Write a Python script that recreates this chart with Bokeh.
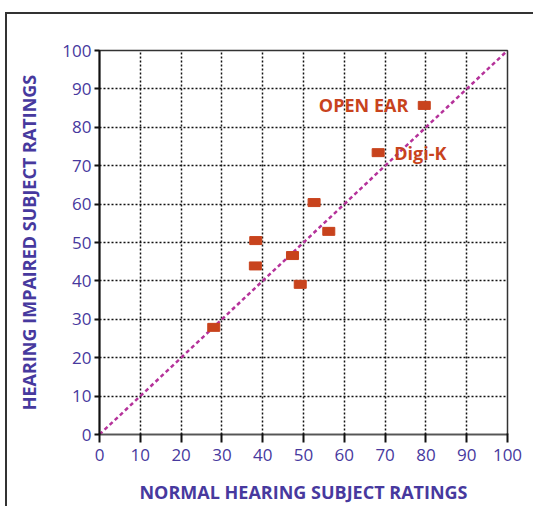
from bokeh.plotting import figure
from bokeh.models import ColumnDataSource, Range1d, FixedTicker
from bokeh.core.properties import value
from bokeh.embed import file_html
from bokeh.resources import INLINE

# data
normal_ratings = [28, 38.3, 38.2, 47.3, 49.2, 52.6, 56.2, 68.3, 79.6]
impaired_ratings = [27.9, 50.5, 43.9, 46.6, 39.1, 60.4, 52.9, 73.4, 85.7]

label_names = ["OPEN EAR", "Digi-K"]
label_x = [79.6, 68.3]
label_y = [85.7, 73.4]

diag_x = [0, 100]
diag_y = [0, 100]

ticks = [0, 10, 20, 30, 40, 50, 60, 70, 80, 90, 100]

AXIS_COLOR = "#47399e"
MARK_COLOR = "#c8431d"

p = figure(width=533, height=506, output_backend="svg", toolbar_location=None,
           x_range=Range1d(0, 100), y_range=Range1d(0, 100),
           min_border_left=99, min_border_right=26, min_border_top=50, min_border_bottom=72)
p.background_fill_color = "white"
p.border_fill_color = None
p.outline_line_color = "#333333"
p.outline_line_width = 1.5
p.styles = {
    "background-color": "white",
    "box-shadow": "inset 5px 0 0 0 #fff, inset 0 12px 0 0 #fff, "
                  "inset 7px 0 0 0 #333, inset 0 14px 0 0 #333",
}

for ax in (p.xaxis[0], p.yaxis[0]):
    ax.ticker = FixedTicker(ticks=ticks)
    ax.minor_tick_line_color = None
    ax.major_label_text_font = "Open Sans"
    ax.major_label_text_font_size = "17px"
    ax.major_label_text_color = AXIS_COLOR
    ax.axis_label_text_font = "Open Sans"
    ax.axis_label_text_font_size = "18px"
    ax.axis_label_text_font_style = "bold"
    ax.axis_label_text_color = AXIS_COLOR
    ax.major_tick_line_color = "#111111"
    ax.major_tick_line_width = 2

p.xaxis.axis_label = "NORMAL HEARING SUBJECT RATINGS"
p.yaxis.axis_label = "HEARING IMPAIRED SUBJECT RATINGS"
p.xaxis.axis_line_color = "#555555"
p.xaxis.axis_line_width = 1.5
p.yaxis.axis_line_color = "#111111"
p.yaxis.axis_line_width = 2
p.xaxis.major_tick_out = 8
p.xaxis.major_tick_in = 1
p.yaxis.major_tick_out = 5
p.yaxis.major_tick_in = 0
p.xaxis.major_label_standoff = 6
p.yaxis.major_label_standoff = 3
p.xaxis.axis_label_standoff = 16
p.yaxis.axis_label_standoff = 18

for g in (p.xgrid[0], p.ygrid[0]):
    g.ticker = FixedTicker(ticks=ticks[1:-1])
    g.grid_line_color = "#111111"
    g.grid_line_width = 1.5
    g.grid_line_dash = "2 2"

p.line(diag_x, diag_y, line_color="#b5329a", line_width=2.5, line_dash="4 3")

src = ColumnDataSource(dict(x=normal_ratings, y=impaired_ratings))
p.rect("x", "y", width=12, height=8, width_units="screen", height_units="screen",
       source=src, fill_color=MARK_COLOR, line_color=MARK_COLOR)

p.text(label_x[:1], label_y[:1], text=label_names[:1], text_align="right", text_baseline="middle",
       x_offset=-16, text_font=value("Open Sans"), text_font_style="bold",
       text_font_size="18px", text_color=MARK_COLOR)
p.text(label_x[1:], label_y[1:], text=label_names[1:], text_align="left", text_baseline="middle",
       x_offset=16, text_font=value("Open Sans"), text_font_style="bold",
       text_font_size="18px", text_color=MARK_COLOR)

open("out.html", "w").write(file_html(p, INLINE))
